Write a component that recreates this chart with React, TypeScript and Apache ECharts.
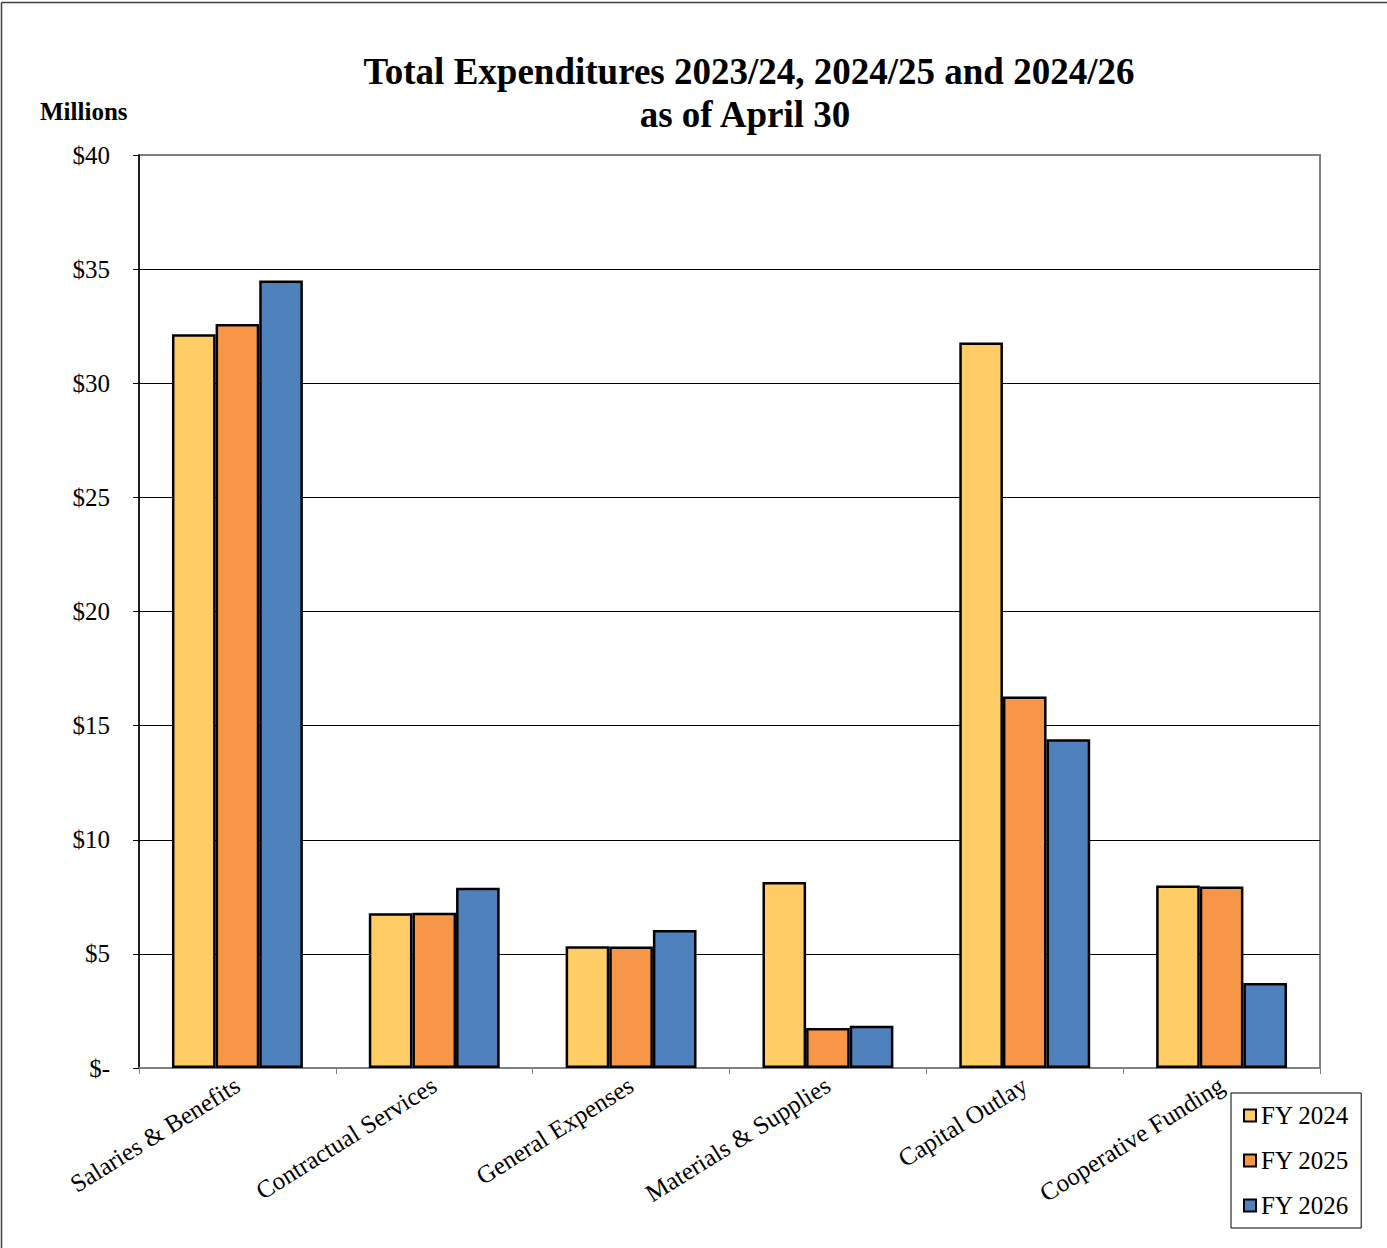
import React, { useEffect, useRef } from "react";
import * as echarts from "echarts";

const categories = [
  "Salaries & Benefits",
  "Contractual Services",
  "General Expenses",
  "Materials & Supplies",
  "Capital Outlay",
  "Cooperative Funding",
];
const fy2024 = [32.15, 6.78, 5.33, 8.15, 31.78, 8.0];
const fy2025 = [32.6, 6.8, 5.32, 1.75, 16.28, 7.95];
const fy2026 = [34.5, 7.9, 6.05, 1.85, 14.4, 3.72];
const seriesNames = ["FY 2024", "FY 2025", "FY 2026"];
const seriesColors = ["#FFCC66", "#F79646", "#4F81BD"];
const yTicks = [0, 5, 10, 15, 20, 25, 30, 35, 40];

const FONT = "'Liberation Serif', 'Times New Roman', serif";

export default function App() {
  const ref = useRef<HTMLDivElement>(null);
  useEffect(() => {
    document.body.style.margin = "0";
    const chart = echarts.init(ref.current!, null, { renderer: "svg" });
    const data = [fy2024, fy2025, fy2026];
    chart.setOption({
      animation: false,
      backgroundColor: "#ffffff",
      textStyle: { fontFamily: FONT },
      grid: {
        left: 139,
        right: 67,
        top: 155,
        bottom: 180,
        show: true,
        borderColor: "#808080",
        borderWidth: 2,
        backgroundColor: "transparent",
      },
      graphic: [
        {
          type: "line",
          shape: { x1: 1.5, y1: 2.5, x2: 1400, y2: 2.5 },
          style: { stroke: "#404040", lineWidth: 1.5 },
        },
        {
          type: "line",
          shape: { x1: 1.5, y1: 2.5, x2: 1.5, y2: 1260 },
          style: { stroke: "#404040", lineWidth: 1.5 },
        },
        {
          type: "text",
          x: 749,
          y: 71,
          style: {
            text: "Total Expenditures 2023/24, 2024/25 and 2024/26",
            font: `bold 37px ${FONT}`,
            fill: "#000",
            textAlign: "center",
            textVerticalAlign: "middle",
          },
        },
        {
          type: "text",
          x: 745,
          y: 114,
          style: {
            text: "as of April 30",
            font: `bold 37px ${FONT}`,
            fill: "#000",
            textAlign: "center",
            textVerticalAlign: "middle",
          },
        },
        {
          type: "text",
          x: 40,
          y: 111,
          style: {
            text: "Millions",
            font: `bold 25px ${FONT}`,
            fill: "#000",
            textAlign: "left",
            textVerticalAlign: "middle",
          },
        },
      ],
      legend: {
        orient: "vertical",
        left: 1231,
        top: 1093,
        width: 130,
        padding: [10, 12, 10, 12],
        itemGap: 20,
        itemWidth: 12,
        itemHeight: 12,
        icon: "rect",
        borderColor: "#000",
        borderWidth: 1,
        backgroundColor: "#fff",
        textStyle: { fontFamily: FONT, fontSize: 25, color: "#000" },
        data: seriesNames,
      },
      xAxis: {
        type: "category",
        data: categories,
        boundaryGap: true,
        axisLine: { show: true, lineStyle: { color: "#808080", width: 2 } },
        axisTick: { show: true, length: 6, lineStyle: { color: "#808080", width: 1 } },
        axisLabel: {
          rotate: 32,
          margin: 15,
          interval: 0,
          fontFamily: FONT,
          fontSize: 25,
          color: "#000",
        },
        splitLine: { show: false },
      },
      yAxis: {
        type: "value",
        min: 0,
        max: 40,
        interval: 5,
        axisLine: { show: true, lineStyle: { color: "#000", width: 1.5 } },
        axisTick: { show: true, length: 6, lineStyle: { color: "#000", width: 1 } },
        axisLabel: {
          margin: 29,
          fontFamily: FONT,
          fontSize: 25,
          color: "#000",
          formatter: (v: number) => (v === 0 ? "$-" : "$" + v),
        },
        splitLine: {
          show: true,
          lineStyle: {
            color: yTicks.map((v) => (v === 0 || v === 40 ? "rgba(0,0,0,0)" : "#000")),
            width: 1,
          },
        },
      },
      series: seriesNames.map((name, i) => ({
        name,
        type: "bar",
        data: data[i],
        barGap: "0%",
        barCategoryGap: "33.5%",
        itemStyle: { color: seriesColors[i], borderColor: "#000", borderWidth: 2.5 },
      })),
    });
    return () => chart.dispose();
  }, []);
  return <div ref={ref} style={{ width: 1387, height: 1248 }} />;
}
